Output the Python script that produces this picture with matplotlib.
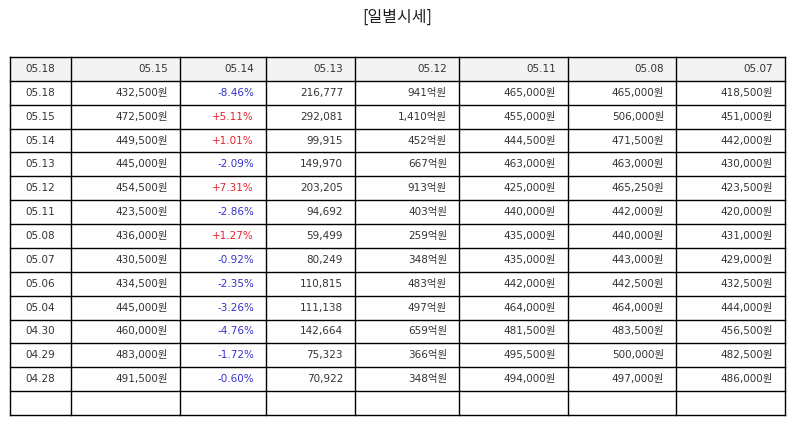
import matplotlib
matplotlib.use("Agg")
import matplotlib.pyplot as plt
from matplotlib.patches import Rectangle

plt.rcParams['font.family'] = ['DejaVu Sans', 'Noto Sans CJK KR']

title = "[일별시세]"
columns = ["05.18", "05.15", "05.14", "05.13", "05.12", "05.11", "05.08", "05.07"]
dates = ["05.18", "05.15", "05.14", "05.13", "05.12", "05.11", "05.08", "05.07",
         "05.06", "05.04", "04.30", "04.29", "04.28"]
close = ["432,500원", "472,500원", "449,500원", "445,000원", "454,500원", "423,500원",
         "436,000원", "430,500원", "434,500원", "445,000원", "460,000원", "483,000원", "491,500원"]
change = ["-8.46%", "+5.11%", "+1.01%", "-2.09%", "+7.31%", "-2.86%", "+1.27%",
          "-0.92%", "-2.35%", "-3.26%", "-4.76%", "-1.72%", "-0.60%"]
volume = ["216,777", "292,081", "99,915", "149,970", "203,205", "94,692", "59,499",
          "80,249", "110,815", "111,138", "142,664", "75,323", "70,922"]
amount = ["941억원", "1,410억원", "452억원", "667억원", "913억원", "403억원", "259억원",
          "348억원", "483억원", "497억원", "659억원", "366억원", "348억원"]
open_ = ["465,000원", "455,000원", "444,500원", "463,000원", "425,000원", "440,000원",
         "435,000원", "435,000원", "442,000원", "464,000원", "481,500원", "495,500원", "494,000원"]
high = ["465,000원", "506,000원", "471,500원", "463,000원", "465,250원", "442,000원",
        "440,000원", "443,000원", "442,500원", "464,000원", "483,500원", "500,000원", "497,000원"]
low = ["418,500원", "451,000원", "442,000원", "430,000원", "423,500원", "420,000원",
       "431,000원", "429,000원", "432,500원", "444,000원", "456,500원", "482,500원", "486,000원"]

W, H = 794, 425
fig = plt.figure(figsize=(W / 100, H / 100), dpi=100)
ax = fig.add_axes([0, 0, 1, 1])
ax.set_xlim(0, W)
ax.set_ylim(H, 0)
ax.axis('off')

col_edges = [10, 71, 180, 266, 355, 459, 568, 676, 785]
top, bottom = 57, 415
nrows = 1 + len(dates) + 1
rh = (bottom - top) / nrows

ax.text(W / 2, 17, title, ha='center', va='center', fontsize=11.5, color='#222222',
        family=['Noto Sans CJK KR', 'DejaVu Sans'])

# header background
ax.add_patch(Rectangle((col_edges[0], top), col_edges[-1] - col_edges[0], rh,
                       facecolor='#f3f3f3', edgecolor='none', zorder=0))

rows = [columns]
for i in range(len(dates)):
    rows.append([dates[i], close[i], change[i], volume[i], amount[i], open_[i], high[i], low[i]])
rows.append([""] * 8)

pad = 12
fs = 7.5
for r, row in enumerate(rows):
    yc = top + rh * (r + 0.5)
    for c, txt in enumerate(row):
        if not txt:
            continue
        color = '#333333'
        if r > 0 and c == 2:
            color = '#3333cc' if txt.startswith('-') else '#e8202a'
        if c == 0:
            ax.text((col_edges[0] + col_edges[1]) / 2, yc, txt, ha='center', va='center',
                    fontsize=fs, color=color)
        else:
            ax.text(col_edges[c + 1] - pad, yc, txt, ha='right', va='center',
                    fontsize=fs, color=color)

lw = 1.0
for r in range(nrows + 1):
    y = top + rh * r
    ax.plot([col_edges[0], col_edges[-1]], [y, y], color='black', lw=lw, solid_capstyle='projecting')
for x in col_edges:
    ax.plot([x, x], [top, bottom], color='black', lw=lw, solid_capstyle='projecting')

fig.savefig("out.png", dpi=100)
